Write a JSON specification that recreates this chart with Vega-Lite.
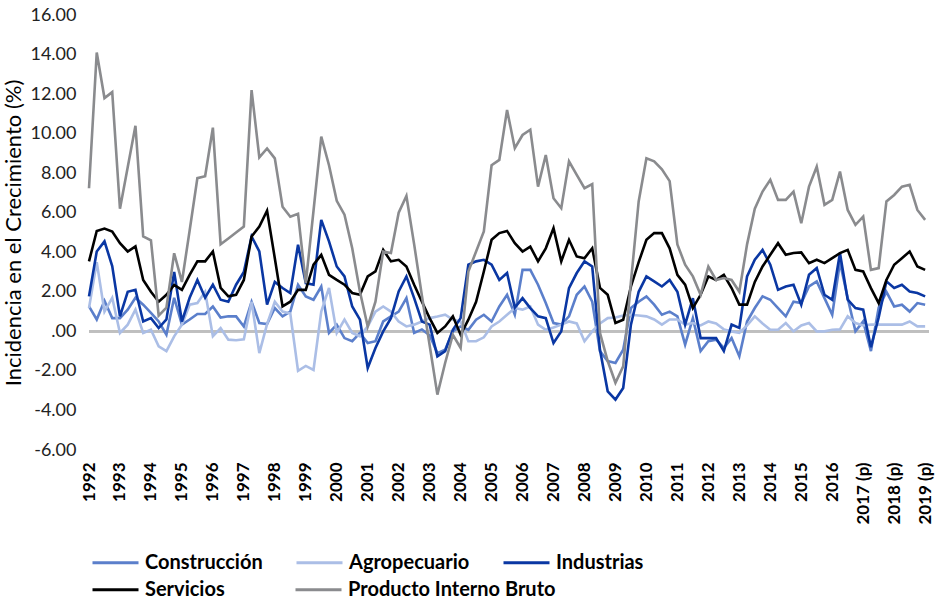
{
  "$schema": "https://vega.github.io/schema/vega-lite/v6.json",
  "width": 840,
  "height": 435,
  "autosize": {"type": "none"},
  "padding": {"left": 89, "top": 15, "right": 10, "bottom": 149},
  "background": "white",
  "config": {
    "view": {"stroke": null},
    "font": "Lato",
    "axis": {"labelFont": "Lato", "titleFont": "Lato", "grid": false, "domain": false, "ticks": false}
  },
  "data": {
    "values": [
      {"t":0,"Construcción":1.26,"Agropecuario":1.18,"Industrias":1.77,"Servicios":3.54,"Producto Interno Bruto":7.24},
      {"t":1,"Construcción":0.6,"Agropecuario":3.5,"Industrias":4.04,"Servicios":5.08,"Producto Interno Bruto":14.1},
      {"t":2,"Construcción":1.55,"Agropecuario":1.0,"Industrias":4.55,"Servicios":5.2,"Producto Interno Bruto":11.8},
      {"t":3,"Construcción":0.67,"Agropecuario":1.7,"Industrias":3.3,"Servicios":5.05,"Producto Interno Bruto":12.1},
      {"t":4,"Construcción":0.67,"Agropecuario":-0.08,"Industrias":0.76,"Servicios":4.46,"Producto Interno Bruto":6.2},
      {"t":5,"Construcción":1.1,"Agropecuario":0.34,"Industrias":2.0,"Servicios":4.04,"Producto Interno Bruto":8.3},
      {"t":6,"Construcción":1.7,"Agropecuario":1.1,"Industrias":2.1,"Servicios":4.3,"Producto Interno Bruto":10.4},
      {"t":7,"Construcción":1.35,"Agropecuario":-0.08,"Industrias":0.5,"Servicios":2.6,"Producto Interno Bruto":4.8},
      {"t":8,"Construcción":0.93,"Agropecuario":0.08,"Industrias":0.67,"Servicios":2.0,"Producto Interno Bruto":4.6},
      {"t":9,"Construcción":0.5,"Agropecuario":-0.76,"Industrias":0.17,"Servicios":1.5,"Producto Interno Bruto":0.8},
      {"t":10,"Construcción":-0.17,"Agropecuario":-1.0,"Industrias":0.6,"Servicios":1.85,"Producto Interno Bruto":1.2},
      {"t":11,"Construcción":1.7,"Agropecuario":-0.25,"Industrias":3.0,"Servicios":2.35,"Producto Interno Bruto":3.95},
      {"t":12,"Construcción":0.34,"Agropecuario":0.34,"Industrias":0.5,"Servicios":2.1,"Producto Interno Bruto":2.5},
      {"t":13,"Construcción":0.6,"Agropecuario":1.35,"Industrias":1.7,"Servicios":2.86,"Producto Interno Bruto":5.1},
      {"t":14,"Construcción":0.88,"Agropecuario":1.43,"Industrias":2.6,"Servicios":3.54,"Producto Interno Bruto":7.75},
      {"t":15,"Construcción":0.88,"Agropecuario":2.0,"Industrias":1.7,"Servicios":3.54,"Producto Interno Bruto":7.85},
      {"t":16,"Construcción":1.26,"Agropecuario":-0.25,"Industrias":2.36,"Servicios":4.04,"Producto Interno Bruto":10.3},
      {"t":17,"Construcción":0.7,"Agropecuario":0.17,"Industrias":1.6,"Servicios":2.2,"Producto Interno Bruto":4.4},
      {"t":18,"Construcción":0.76,"Agropecuario":-0.42,"Industrias":1.5,"Servicios":1.77,"Producto Interno Bruto":4.7},
      {"t":19,"Construcción":0.76,"Agropecuario":-0.45,"Industrias":2.36,"Servicios":1.85,"Producto Interno Bruto":5.0},
      {"t":20,"Construcción":0.25,"Agropecuario":-0.4,"Industrias":3.0,"Servicios":2.6,"Producto Interno Bruto":5.3},
      {"t":21,"Construcción":1.5,"Agropecuario":1.5,"Industrias":4.8,"Servicios":4.8,"Producto Interno Bruto":12.2},
      {"t":22,"Construcción":0.42,"Agropecuario":-1.1,"Industrias":4.04,"Servicios":5.3,"Producto Interno Bruto":8.8},
      {"t":23,"Construcción":0.37,"Agropecuario":0.37,"Industrias":1.35,"Servicios":6.1,"Producto Interno Bruto":9.25},
      {"t":24,"Construcción":1.18,"Agropecuario":1.5,"Industrias":2.5,"Servicios":3.7,"Producto Interno Bruto":8.75},
      {"t":25,"Construcción":0.76,"Agropecuario":1.0,"Industrias":2.19,"Servicios":1.26,"Producto Interno Bruto":6.3},
      {"t":26,"Construcción":1.0,"Agropecuario":0.9,"Industrias":1.94,"Servicios":1.5,"Producto Interno Bruto":5.8},
      {"t":27,"Construcción":2.36,"Agropecuario":-2.0,"Industrias":4.38,"Servicios":2.1,"Producto Interno Bruto":5.95},
      {"t":28,"Construcción":1.77,"Agropecuario":-1.75,"Industrias":2.44,"Servicios":2.1,"Producto Interno Bruto":2.44},
      {"t":29,"Construcción":1.6,"Agropecuario":-1.95,"Industrias":2.36,"Servicios":3.37,"Producto Interno Bruto":6.1},
      {"t":30,"Construcción":2.27,"Agropecuario":1.0,"Industrias":5.64,"Servicios":3.87,"Producto Interno Bruto":9.85},
      {"t":31,"Construcción":-0.08,"Agropecuario":2.2,"Industrias":4.55,"Servicios":2.86,"Producto Interno Bruto":8.4},
      {"t":32,"Construcción":0.34,"Agropecuario":-0.08,"Industrias":3.28,"Servicios":2.6,"Producto Interno Bruto":6.6},
      {"t":33,"Construcción":-0.34,"Agropecuario":0.59,"Industrias":2.78,"Servicios":2.36,"Producto Interno Bruto":5.9},
      {"t":34,"Construcción":-0.5,"Agropecuario":-0.08,"Industrias":1.26,"Servicios":1.94,"Producto Interno Bruto":4.2},
      {"t":35,"Construcción":-0.08,"Agropecuario":-0.25,"Industrias":0.59,"Servicios":1.85,"Producto Interno Bruto":2.0},
      {"t":36,"Construcción":-0.59,"Agropecuario":0.25,"Industrias":-1.85,"Servicios":2.78,"Producto Interno Bruto":0.25},
      {"t":37,"Construcción":-0.5,"Agropecuario":1.0,"Industrias":-0.84,"Servicios":3.03,"Producto Interno Bruto":1.5},
      {"t":38,"Construcción":0.5,"Agropecuario":1.26,"Industrias":0.0,"Servicios":4.12,"Producto Interno Bruto":4.04},
      {"t":39,"Construcción":0.76,"Agropecuario":1.0,"Industrias":0.67,"Servicios":3.54,"Producto Interno Bruto":3.96},
      {"t":40,"Construcción":1.0,"Agropecuario":0.5,"Industrias":2.02,"Servicios":3.62,"Producto Interno Bruto":6.0},
      {"t":41,"Construcción":1.68,"Agropecuario":0.25,"Industrias":2.78,"Servicios":3.28,"Producto Interno Bruto":6.85},
      {"t":42,"Construcción":-0.08,"Agropecuario":0.34,"Industrias":1.68,"Servicios":2.36,"Producto Interno Bruto":4.4},
      {"t":43,"Construcción":0.1,"Agropecuario":0.5,"Industrias":0.5,"Servicios":1.5,"Producto Interno Bruto":1.8},
      {"t":44,"Construcción":-0.2,"Agropecuario":0.67,"Industrias":0.34,"Servicios":0.67,"Producto Interno Bruto":-0.7},
      {"t":45,"Construcción":-1.1,"Agropecuario":0.75,"Industrias":-1.26,"Servicios":-0.08,"Producto Interno Bruto":-3.2},
      {"t":46,"Construcción":-0.93,"Agropecuario":0.84,"Industrias":-1.0,"Servicios":0.25,"Producto Interno Bruto":-1.6},
      {"t":47,"Construcción":0.0,"Agropecuario":0.6,"Industrias":0.08,"Servicios":0.76,"Producto Interno Bruto":-0.17},
      {"t":48,"Construcción":0.25,"Agropecuario":0.5,"Industrias":0.67,"Servicios":-0.17,"Producto Interno Bruto":-0.84},
      {"t":49,"Construcción":0.08,"Agropecuario":-0.5,"Industrias":3.37,"Servicios":0.59,"Producto Interno Bruto":3.03},
      {"t":50,"Construcción":0.59,"Agropecuario":-0.5,"Industrias":3.54,"Servicios":1.5,"Producto Interno Bruto":4.04},
      {"t":51,"Construcción":0.84,"Agropecuario":-0.3,"Industrias":3.62,"Servicios":3.03,"Producto Interno Bruto":5.05},
      {"t":52,"Construcción":0.5,"Agropecuario":0.25,"Industrias":3.37,"Servicios":4.63,"Producto Interno Bruto":8.4},
      {"t":53,"Construcción":1.26,"Agropecuario":0.5,"Industrias":2.6,"Servicios":4.97,"Producto Interno Bruto":8.67},
      {"t":54,"Construcción":1.85,"Agropecuario":0.84,"Industrias":2.95,"Servicios":5.08,"Producto Interno Bruto":11.2},
      {"t":55,"Construcción":0.84,"Agropecuario":1.18,"Industrias":1.2,"Servicios":4.46,"Producto Interno Bruto":9.26},
      {"t":56,"Construcción":3.11,"Agropecuario":1.1,"Industrias":1.68,"Servicios":4.04,"Producto Interno Bruto":9.93},
      {"t":57,"Construcción":3.11,"Agropecuario":1.26,"Industrias":1.18,"Servicios":4.29,"Producto Interno Bruto":10.2},
      {"t":58,"Construcción":2.36,"Agropecuario":0.34,"Industrias":0.76,"Servicios":3.54,"Producto Interno Bruto":7.32},
      {"t":59,"Construcción":1.43,"Agropecuario":0.08,"Industrias":0.67,"Servicios":4.2,"Producto Interno Bruto":8.92},
      {"t":60,"Construcción":0.42,"Agropecuario":0.2,"Industrias":-0.59,"Servicios":5.22,"Producto Interno Bruto":6.73},
      {"t":61,"Construcción":0.34,"Agropecuario":0.34,"Industrias":0.0,"Servicios":3.54,"Producto Interno Bruto":6.23},
      {"t":62,"Construcción":0.76,"Agropecuario":0.5,"Industrias":2.19,"Servicios":4.63,"Producto Interno Bruto":8.6},
      {"t":63,"Construcción":1.85,"Agropecuario":0.4,"Industrias":2.95,"Servicios":3.79,"Producto Interno Bruto":7.91},
      {"t":64,"Construcción":2.27,"Agropecuario":-0.5,"Industrias":3.54,"Servicios":3.7,"Producto Interno Bruto":7.24},
      {"t":65,"Construcción":1.5,"Agropecuario":0.0,"Industrias":3.28,"Servicios":4.2,"Producto Interno Bruto":7.45},
      {"t":66,"Construcción":-1.0,"Agropecuario":0.4,"Industrias":-0.93,"Servicios":2.2,"Producto Interno Bruto":-0.08},
      {"t":67,"Construcción":-1.5,"Agropecuario":0.67,"Industrias":-3.03,"Servicios":1.85,"Producto Interno Bruto":-1.5},
      {"t":68,"Construcción":-1.6,"Agropecuario":0.7,"Industrias":-3.45,"Servicios":0.42,"Producto Interno Bruto":-2.6},
      {"t":69,"Construcción":-0.93,"Agropecuario":0.8,"Industrias":-2.86,"Servicios":0.59,"Producto Interno Bruto":-1.77},
      {"t":70,"Construcción":1.18,"Agropecuario":0.84,"Industrias":0.34,"Servicios":2.27,"Producto Interno Bruto":2.5},
      {"t":71,"Construcción":1.5,"Agropecuario":0.8,"Industrias":2.0,"Servicios":3.5,"Producto Interno Bruto":6.57},
      {"t":72,"Construcción":1.77,"Agropecuario":0.76,"Industrias":2.78,"Servicios":4.63,"Producto Interno Bruto":8.75},
      {"t":73,"Construcción":1.35,"Agropecuario":0.6,"Industrias":2.53,"Servicios":4.97,"Producto Interno Bruto":8.6},
      {"t":74,"Construcción":0.84,"Agropecuario":0.34,"Industrias":2.27,"Servicios":4.97,"Producto Interno Bruto":8.2},
      {"t":75,"Construcción":1.0,"Agropecuario":0.6,"Industrias":2.6,"Servicios":4.2,"Producto Interno Bruto":7.6},
      {"t":76,"Construcción":0.76,"Agropecuario":0.6,"Industrias":2.0,"Servicios":2.86,"Producto Interno Bruto":4.4},
      {"t":77,"Construcción":-0.67,"Agropecuario":0.34,"Industrias":0.34,"Servicios":2.36,"Producto Interno Bruto":3.37},
      {"t":78,"Construcción":0.67,"Agropecuario":0.42,"Industrias":1.68,"Servicios":1.18,"Producto Interno Bruto":2.78},
      {"t":79,"Construcción":-1.0,"Agropecuario":0.3,"Industrias":-0.34,"Servicios":1.85,"Producto Interno Bruto":1.85},
      {"t":80,"Construcción":-0.5,"Agropecuario":0.5,"Industrias":-0.34,"Servicios":2.78,"Producto Interno Bruto":3.28},
      {"t":81,"Construcción":-0.42,"Agropecuario":0.4,"Industrias":-0.34,"Servicios":2.6,"Producto Interno Bruto":2.6},
      {"t":82,"Construcción":-0.84,"Agropecuario":0.1,"Industrias":-1.0,"Servicios":2.86,"Producto Interno Bruto":2.7},
      {"t":83,"Construcción":-0.34,"Agropecuario":0.0,"Industrias":0.34,"Servicios":2.19,"Producto Interno Bruto":2.6},
      {"t":84,"Construcción":-1.26,"Agropecuario":-0.08,"Industrias":0.17,"Servicios":1.35,"Producto Interno Bruto":2.0},
      {"t":85,"Construcción":0.5,"Agropecuario":0.3,"Industrias":2.78,"Servicios":1.35,"Producto Interno Bruto":4.4},
      {"t":86,"Construcción":1.18,"Agropecuario":0.76,"Industrias":3.62,"Servicios":2.5,"Producto Interno Bruto":6.2},
      {"t":87,"Construcción":1.77,"Agropecuario":0.4,"Industrias":4.12,"Servicios":3.28,"Producto Interno Bruto":7.07},
      {"t":88,"Construcción":1.6,"Agropecuario":0.08,"Industrias":3.37,"Servicios":3.87,"Producto Interno Bruto":7.66},
      {"t":89,"Construcción":1.18,"Agropecuario":0.08,"Industrias":2.1,"Servicios":4.46,"Producto Interno Bruto":6.65},
      {"t":90,"Construcción":0.76,"Agropecuario":0.42,"Industrias":2.27,"Servicios":3.87,"Producto Interno Bruto":6.65},
      {"t":91,"Construcción":1.5,"Agropecuario":0.0,"Industrias":2.36,"Servicios":3.96,"Producto Interno Bruto":7.07},
      {"t":92,"Construcción":1.43,"Agropecuario":0.3,"Industrias":1.35,"Servicios":3.99,"Producto Interno Bruto":5.47},
      {"t":93,"Construcción":2.27,"Agropecuario":0.42,"Industrias":2.86,"Servicios":3.45,"Producto Interno Bruto":7.32},
      {"t":94,"Construcción":2.53,"Agropecuario":0.0,"Industrias":3.2,"Servicios":3.62,"Producto Interno Bruto":8.33},
      {"t":95,"Construcción":1.68,"Agropecuario":0.0,"Industrias":1.85,"Servicios":3.45,"Producto Interno Bruto":6.4},
      {"t":96,"Construcción":0.84,"Agropecuario":0.08,"Industrias":1.6,"Servicios":3.7,"Producto Interno Bruto":6.65},
      {"t":97,"Construcción":3.5,"Agropecuario":0.1,"Industrias":3.96,"Servicios":3.96,"Producto Interno Bruto":8.08},
      {"t":98,"Construcción":1.68,"Agropecuario":0.76,"Industrias":1.6,"Servicios":4.12,"Producto Interno Bruto":6.14},
      {"t":99,"Construcción":0.0,"Agropecuario":0.42,"Industrias":1.18,"Servicios":3.11,"Producto Interno Bruto":5.39},
      {"t":100,"Construcción":0.5,"Agropecuario":0.3,"Industrias":1.1,"Servicios":3.03,"Producto Interno Bruto":5.8},
      {"t":101,"Construcción":-1.0,"Agropecuario":0.34,"Industrias":-0.8,"Servicios":2.19,"Producto Interno Bruto":3.11},
      {"t":102,"Construcción":1.2,"Agropecuario":0.34,"Industrias":0.7,"Servicios":1.43,"Producto Interno Bruto":3.2},
      {"t":103,"Construcción":2.0,"Agropecuario":0.34,"Industrias":2.53,"Servicios":2.6,"Producto Interno Bruto":6.57},
      {"t":104,"Construcción":1.26,"Agropecuario":0.34,"Industrias":2.19,"Servicios":3.37,"Producto Interno Bruto":6.9},
      {"t":105,"Construcción":1.35,"Agropecuario":0.34,"Industrias":2.36,"Servicios":3.7,"Producto Interno Bruto":7.32},
      {"t":106,"Construcción":1.0,"Agropecuario":0.5,"Industrias":2.02,"Servicios":4.04,"Producto Interno Bruto":7.41},
      {"t":107,"Construcción":1.43,"Agropecuario":0.25,"Industrias":1.94,"Servicios":3.28,"Producto Interno Bruto":6.14},
      {"t":108,"Construcción":1.35,"Agropecuario":0.25,"Industrias":1.77,"Servicios":3.11,"Producto Interno Bruto":5.64}
    ]
  },
  "transform": [
    {"fold": ["Construcción", "Agropecuario", "Industrias", "Servicios", "Producto Interno Bruto"], "as": ["serie", "valor"]}
  ],
  "encoding": {
    "x": {
      "field": "t", "type": "quantitative",
      "scale": {"domain": [0, 108.5], "nice": false, "zero": false},
      "axis": {
        "title": null,
        "values": [0,4,8,12,16,20,24,28,32,36,40,44,48,52,56,60,64,68,72,76,80,84,88,92,96,100,104,108],
        "labelExpr": "datum.value >= 100 ? (1992 + datum.value / 4) + ' (p)' : '' + (1992 + datum.value / 4)",
        "labelAngle": -90,
        "labelFontSize": 17,
        "labelFontWeight": "bold",
        "labelColor": "#000000",
        "labelPadding": 12,
        "labelOverlap": false,
        "labelBound": false,
        "labelFlush": false
      }
    },
    "y": {
      "field": "valor", "type": "quantitative",
      "scale": {"domain": [-6, 16], "nice": false, "zero": false},
      "axis": {
        "title": "Incidencia en el Crecimiento (%)",
        "titleFontSize": 22,
        "titleFontWeight": "normal",
        "titleColor": "#000000",
        "titlePadding": 4,
        "values": [-6,-4,-2,0,2,4,6,8,10,12,14,16],
        "labelExpr": "datum.value == 0 ? '.00' : (datum.value < 0 ? '-' + format(-datum.value, '.2f') : format(datum.value, '.2f'))",
        "labelFontSize": 18,
        "labelColor": "#222222",
        "labelPadding": 13
      }
    }
  },
  "layer": [
    {
      "mark": {"type": "rule", "color": "#BFBFBF", "strokeWidth": 2},
      "encoding": {"y": {"datum": 0}, "x": null}
    },
    {
      "transform": [{"filter": {"field": "serie", "oneOf": ["Construcción", "Agropecuario", "Industrias"]}}],
      "mark": {"type": "line", "strokeWidth": 2.6},
      "encoding": {
        "color": {
          "field": "serie", "type": "nominal",
          "scale": {"domain": ["Construcción", "Agropecuario", "Industrias"], "range": ["#5B7FCB", "#ABBEE6", "#0A37A3"]},
          "legend": {
            "title": null, "orient": "none", "legendX": 2, "legendY": 523, "direction": "horizontal",
            "symbolType": "stroke", "symbolSize": 2116, "symbolStrokeWidth": 3, "labelOffset": 5,
            "labelFont": "Lato", "labelFontSize": 20, "labelFontWeight": "bold", "labelColor": "#000000",
            "columnPadding": 27, "padding": 0, "labelLimit": 400
          }
        }
      }
    },
    {
      "transform": [{"filter": {"field": "serie", "oneOf": ["Servicios", "Producto Interno Bruto"]}}],
      "mark": {"type": "line", "strokeWidth": 2.6},
      "encoding": {
        "stroke": {
          "field": "serie", "type": "nominal",
          "scale": {"domain": ["Servicios", "Producto Interno Bruto"], "range": ["#000000", "#8A8B8E"]},
          "legend": {
            "title": null, "orient": "none", "legendX": 2, "legendY": 550, "direction": "horizontal",
            "symbolType": "stroke", "symbolSize": 2116, "symbolStrokeWidth": 3, "labelOffset": 5,
            "labelFont": "Lato", "labelFontSize": 20, "labelFontWeight": "bold", "labelColor": "#000000",
            "columnPadding": 64, "padding": 0, "labelLimit": 400
          }
        }
      }
    }
  ]
}
